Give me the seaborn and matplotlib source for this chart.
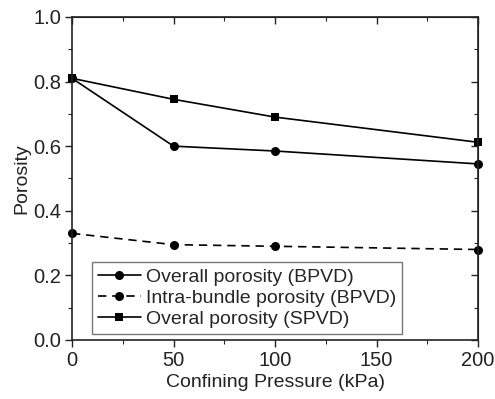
# import packages

import numpy as np
import pandas as pd
import matplotlib
matplotlib.use("Agg")
import matplotlib.pyplot as plt
import matplotlib.ticker as ticker
import seaborn as sns

# data

pressure = [0, 50, 100, 200]
overall_bpvd = [0.81, 0.60, 0.585, 0.545]
intra_bpvd = [0.33, 0.295, 0.29, 0.28]
overall_spvd = [0.81, 0.745, 0.69, 0.612]

labels = ["Overall porosity (BPVD)", "Intra-bundle porosity (BPVD)", "Overal porosity (SPVD)"]

df = pd.DataFrame({"Pressure": pressure * 3,
                   "Porosity": overall_bpvd + intra_bpvd + overall_spvd,
                   "Series": [labels[0]] * 4 + [labels[1]] * 4 + [labels[2]] * 4})

# plot

sns.set_style("ticks")
plt.rcParams['font.family'] = ['Liberation Sans', 'DejaVu Sans']

fig = plt.figure(figsize=(4.95, 3.99), dpi=100)
ax = fig.add_axes([0.1455, 0.148, 0.8202, 0.8095])

sns.lineplot(data=df, x="Pressure", y="Porosity", hue="Series", style="Series",
             palette=["black"] * 3,
             dashes={labels[0]: "", labels[1]: (5, 3.5), labels[2]: ""},
             markers={labels[0]: "o", labels[1]: "o", labels[2]: "s"},
             markersize=6.5, linewidth=1.2, markeredgewidth=0, ax=ax, clip_on=False)

# squares a bit smaller than circles
for line in ax.lines:
    if line.get_marker() == "s":
        line.set_markersize(5.5)

ax.set_xlim(0, 200)
ax.set_ylim(0.0, 1.0)
ax.xaxis.set_major_locator(ticker.MultipleLocator(50))
ax.xaxis.set_minor_locator(ticker.MultipleLocator(25))
ax.yaxis.set_major_locator(ticker.MultipleLocator(0.2))
ax.yaxis.set_minor_locator(ticker.MultipleLocator(0.1))
ax.yaxis.set_major_formatter(ticker.FormatStrFormatter("%.1f"))
ax.tick_params(which="major", direction="out", length=5, width=1, labelsize=14.5,
               colors="#222222", pad=3)
ax.tick_params(which="minor", direction="out", length=3, width=0.8)
ax.set_xlabel("Confining Pressure (kPa)", fontsize=14, color="#222222", labelpad=3)
ax.set_ylabel("Porosity", fontsize=14, color="#222222", labelpad=2)

for s in ax.spines.values():
    s.set_visible(True)
    s.set_linewidth(1.2)
    s.set_color("#222222")

# mirrored ticks on top and right, pointing inward
top = ax.secondary_xaxis("top")
top.xaxis.set_major_locator(ticker.MultipleLocator(50))
top.xaxis.set_minor_locator(ticker.MultipleLocator(25))
top.tick_params(which="major", direction="in", length=5, width=1, labeltop=False)
top.tick_params(which="minor", direction="in", length=3, width=0.8)
right = ax.secondary_yaxis("right")
right.yaxis.set_major_locator(ticker.MultipleLocator(0.2))
right.yaxis.set_minor_locator(ticker.MultipleLocator(0.1))
right.tick_params(which="major", direction="in", length=5, width=1, labelright=False)
right.tick_params(which="minor", direction="in", length=3, width=0.8)

leg = ax.legend(loc="lower left", bbox_to_anchor=(0.049, 0.019), fontsize=14, frameon=True,
                fancybox=False, edgecolor="#555555", handlelength=2.2, handletextpad=0.3,
                labelspacing=0.18, borderpad=0.3, borderaxespad=0.0)
leg.get_frame().set_linewidth(1.0)

plt.savefig("out.png", dpi=100)
